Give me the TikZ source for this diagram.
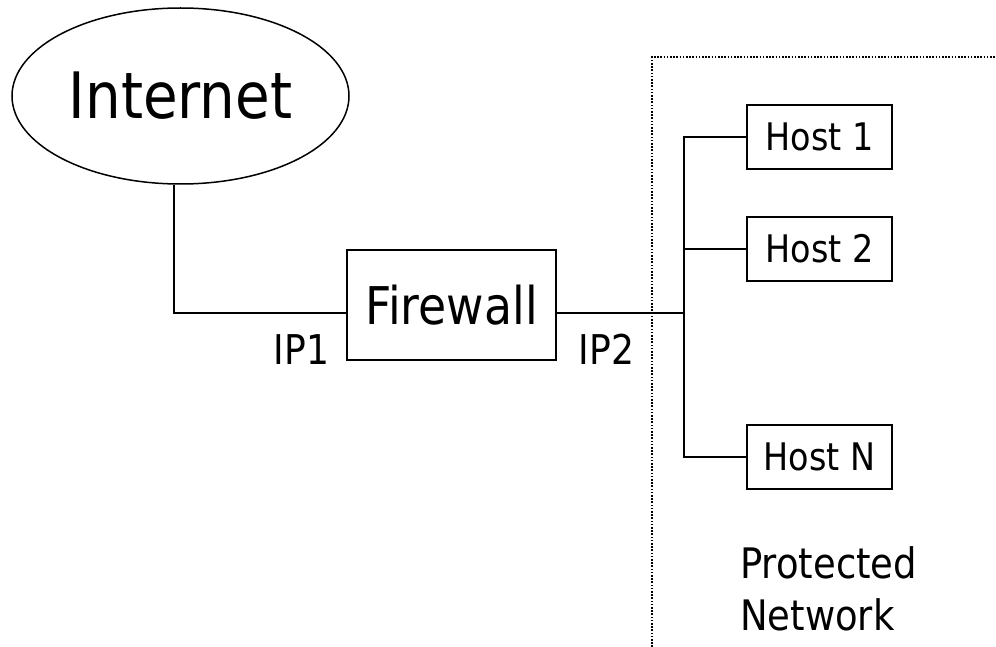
\documentclass[tikz,border=0pt]{standalone}
\usepackage{fontspec}
\setmainfont{DejaVu Sans}[FakeStretch=0.88]
\usetikzlibrary{shapes.geometric}
\begin{document}
\begin{tikzpicture}[x=1pt,y=-1pt,
  wire/.style={line width=2pt},
  boxnode/.style={draw, line width=2pt, rectangle, inner sep=0pt},
  hostbox/.style={boxnode, minimum width=145pt, minimum height=64pt, font=\fontsize{38}{46}\selectfont},
  lbl/.style={inner sep=0pt, font=\fontsize{41}{51}\selectfont},
  dotline/.style={line width=1.7pt, dash pattern=on 1.6pt off 1.6pt}
]
\useasboundingbox (0,0) rectangle (996,647);

% protected network boundary
\coordinate (dtop) at (652,57);
\coordinate (dbot) at (652,647);
\coordinate (dright) at (996,57);
\draw[dotline] (dbot) -- (dtop) -- (dright);

\node[ellipse, draw, line width=1.5pt, minimum width=337pt, minimum height=176pt, inner sep=0pt,
      font=\fontsize{64}{72}\selectfont] (internet) at (180.5,96) {Internet};

\node[boxnode, minimum width=209pt, minimum height=110pt, font=\fontsize{52}{60}\selectfont]
  (firewall) at (451.5,305) {Firewall};

\node[hostbox] (host1) at (819.5,137) {Host 1};
\node[hostbox] (host2) at (819.5,249) {Host 2};
\node[hostbox] (hostN) at (819.5,456.5) {Host N};

\node[lbl] (ip1) at (301.5,350) {IP1};
\node[lbl] (ip2) at (606.5,349) {IP2};

\node[lbl, anchor=north west, align=left, font=\fontsize{42}{52}\selectfont] (prot) at (740,546) {Protected\\Network};

% connectors
\coordinate (bend) at (174,312.5);
\coordinate (bus) at (684,312.5);
\draw[wire] (bend |- internet.south) -- (bend) -- (firewall.west |- bend);
\draw[wire] (firewall.east |- bus) -- (bus);
\draw[wire] (host1.west) -| (bus);
\draw[wire] (hostN.west) -| (bus);
\draw[wire] (host2.west) -- (host2.west -| bus);
\end{tikzpicture}
\end{document}
